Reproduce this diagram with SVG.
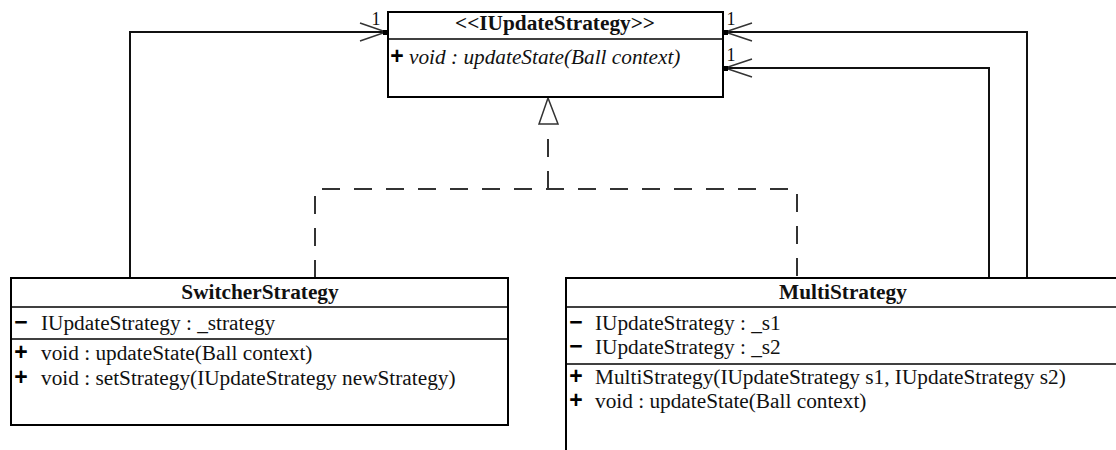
<svg xmlns="http://www.w3.org/2000/svg" width="1116" height="450" viewBox="0 0 1116 450">
<style>
text{font-family:'Liberation Serif','Times New Roman','DejaVu Serif',serif;fill:#111}
.t{font-size:21.3px}
.ti{font-size:21.3px;font-style:italic}
.tb{font-size:21.3px;font-weight:bold;text-anchor:middle}
.sym{font-family:'Liberation Sans',Arial,sans-serif;font-size:23px;font-weight:bold;fill:#000;text-anchor:middle}
.m{font-size:18px;text-anchor:middle}
.box{fill:#fff;stroke:#000;stroke-width:2}
.div{stroke:#000;stroke-width:1.5}
.ln{fill:none;stroke:#111;stroke-width:2}
.dash{fill:none;stroke:#333;stroke-width:2;stroke-dasharray:18 14}
.arm{fill:none;stroke:#333;stroke-width:1.5}
</style>
<g id="connectors">
<polyline class="ln" points="130,278 130,32 386,32"/>
<polyline class="arm" points="360,23 386,32 360,41"/>
<rect x="383" y="30" width="5" height="5" fill="#000"/>
<text class="m" x="376" y="25">1</text>
<polyline class="ln" points="1027,278 1027,32 725,32"/>
<polyline class="arm" points="752,23 725,32 752,41"/>
<rect x="723" y="30" width="5" height="5" fill="#000"/>
<text class="m" x="731" y="25">1</text>
<polyline class="ln" points="989,278 989,68 725,68"/>
<polyline class="arm" points="752,59 725,68 752,77"/>
<rect x="723" y="66" width="5" height="5" fill="#000"/>
<text class="m" x="731" y="61">1</text>
<polyline class="dash" points="315,278 315,189 797,189 797,278"/>
<line class="dash" x1="548" y1="189" x2="548" y2="125"/>
<polygon points="548,98 539,124 558,124" fill="#fff" stroke="#333" stroke-width="1.5"/>
</g>
<g id="IUpdateStrategy">
<rect class="box" x="388" y="12" width="335" height="85"/>
<line class="div" x1="388" y1="39" x2="723" y2="39"/>
<text class="tb" x="555" y="30">&lt;&lt;IUpdateStrategy&gt;&gt;</text>
<text class="sym" x="397" y="64">+</text>
<text class="ti" x="409" y="64">void : updateState(Ball context)</text>
</g>
<g id="SwitcherStrategy">
<rect class="box" x="11" y="278" width="497" height="147"/>
<line class="div" x1="11" y1="307" x2="508" y2="307"/>
<line class="div" x1="11" y1="339" x2="508" y2="339"/>
<text class="tb" x="260" y="299">SwitcherStrategy</text>
<text class="sym" x="21" y="330">−</text>
<text class="t" x="41" y="330">IUpdateStrategy : _strategy</text>
<text class="sym" x="21" y="360">+</text>
<text class="t" x="41" y="360">void : updateState(Ball context)</text>
<text class="sym" x="21" y="385">+</text>
<text class="t" x="41" y="385">void : setStrategy(IUpdateStrategy newStrategy)</text>
</g>
<g id="MultiStrategy">
<rect class="box" x="566" y="278" width="560" height="190"/>
<line class="div" x1="566" y1="307" x2="1116" y2="307"/>
<line class="div" x1="566" y1="364" x2="1116" y2="364"/>
<text class="tb" x="843" y="299">MultiStrategy</text>
<text class="sym" x="576" y="330">−</text>
<text class="t" x="595" y="330">IUpdateStrategy : _s1</text>
<text class="sym" x="576" y="354">−</text>
<text class="t" x="595" y="354">IUpdateStrategy : _s2</text>
<text class="sym" x="576" y="384">+</text>
<text class="t" x="595" y="384">MultiStrategy(IUpdateStrategy s1, IUpdateStrategy s2)</text>
<text class="sym" x="576" y="408">+</text>
<text class="t" x="595" y="408">void : updateState(Ball context)</text>
</g>
</svg>
